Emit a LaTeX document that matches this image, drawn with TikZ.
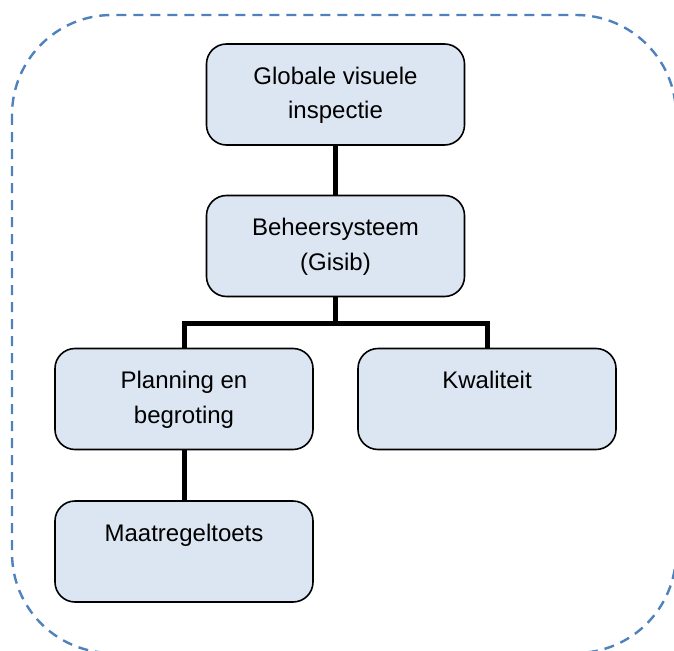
\documentclass[tikz,border=0pt]{standalone}
\usepackage{fontspec}
\setmainfont{Liberation Sans}
\usetikzlibrary{positioning}
\definecolor{Bfill}{HTML}{DCE6F2}
\definecolor{Bline}{HTML}{4F81BD}

\begin{document}
\begin{tikzpicture}[x=1pt,y=-1pt,
  box/.style={draw=black,fill=Bfill,line width=1.6pt,rounded corners=20pt,
    minimum width=258pt,minimum height=101pt,inner sep=0pt,align=center,
    font=\fontsize{24}{35}\selectfont},
  link/.style={line width=5pt}]
\useasboundingbox (0,0) rectangle (674,650);

% ---- dashed frame round the whole scheme ----
\draw[Bline,line width=2.4pt,dash pattern=on 10pt off 7pt,rounded corners=100pt]
  (12,15) rectangle (676,653);

% ---- the boxes ----
\node[box] (insp)  at (335.5,94.5) {\strut Globale visuele\\\strut inspectie};
\node[box] (gisib) at (335.5,246)  {\strut Beheersysteem\\\strut (Gisib)};
\node[box] (plan)  at (184,399)    {\strut Planning en\\\strut begroting};
\node[box] (kwal)  at (487,399)    {\strut Kwaliteit\\\strut};
\node[box] (maatr) at (184,551.5)  {\strut Maatregeltoets\\\strut};

% ---- connectors ----
\draw[link] (insp) -- (gisib);
\draw[link] (gisib.south) -- ++(0,26) coordinate (fork);
\draw[link] (plan.north) |- (fork) -| (kwal.north);
\draw[link] (plan) -- (maatr);
\end{tikzpicture}
\end{document}
